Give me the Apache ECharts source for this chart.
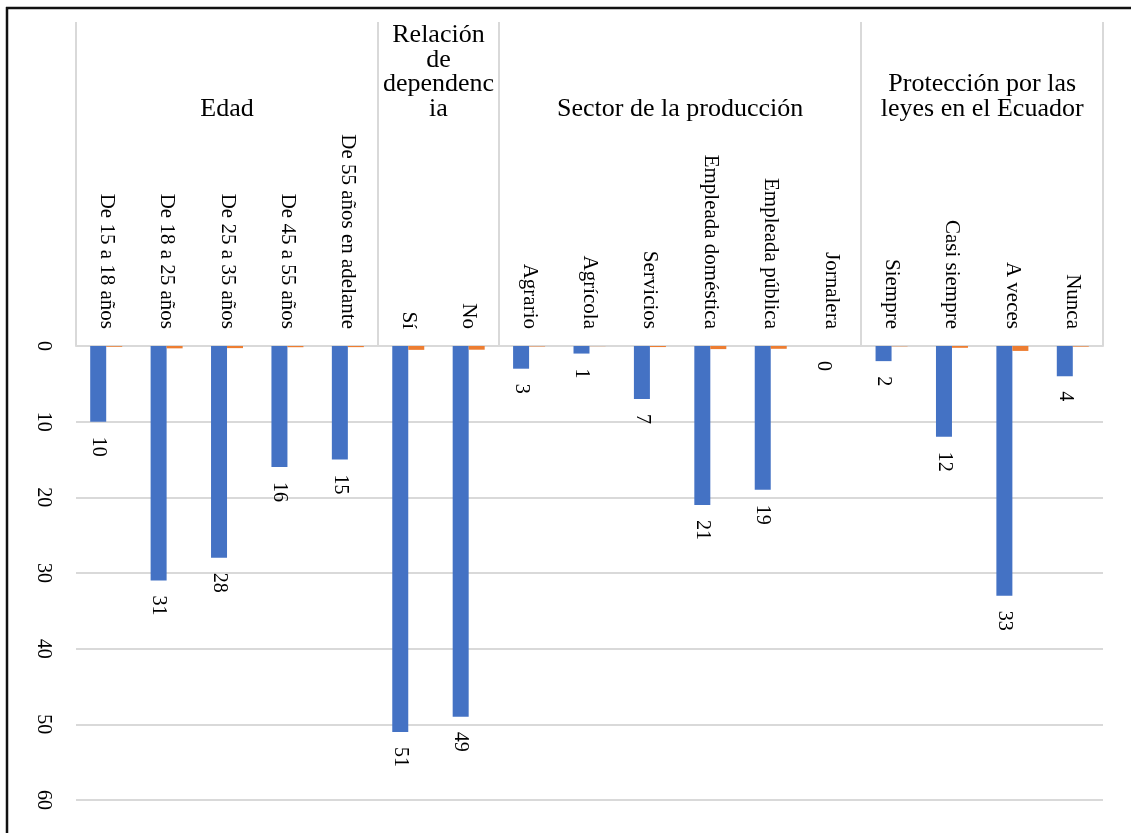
<!DOCTYPE html>
<html>
<head>
<meta charset="utf-8">
<script src="https://cdn.jsdelivr.net/npm/echarts@6/dist/echarts.min.js"></script>
<style>
  html, body { margin: 0; padding: 0; background: #fff; }
  #chart { width: 1131px; height: 833px; }
</style>
</head>
<body>
<div id="chart"></div>
<script>
// Response categories, in drawing order
const categories = [
  'De 15 a 18 años', 'De 18 a 25 años', 'De 25 a 35 años', 'De 45 a 55 años', 'De 55 años en adelante',
  'Sí', 'No',
  'Agrario', 'Agrícola', 'Servicios', 'Empleada doméstica', 'Empleada pública', 'Jornalera',
  'Siempre', 'Casi siempre', 'A veces', 'Nunca'
];
// Frequency per category
const frequencies = [10, 31, 28, 16, 15, 51, 49, 3, 1, 7, 21, 19, 0, 2, 12, 33, 4];
// Share per category (fraction)
const shares = [0.10, 0.31, 0.28, 0.16, 0.15, 0.51, 0.49, 0.06, 0.02, 0.14, 0.41, 0.37, 0, 0.04, 0.24, 0.65, 0.08];
// Question groups and how many categories each one spans
const groupNames = ['Edad', 'Relación\nde\ndependenc\nia', 'Sector de la producción', 'Protección por las\nleyes en el Ecuador'];
const groupSizes = [5, 2, 6, 4];
// Value axis ticks
const valueTicks = { min: 0, max: 60, interval: 10 };

const FONT = '"Liberation Serif", "Times New Roman", serif';
const GRID = '#d9d9d9';

const chart = echarts.init(document.getElementById('chart'));

chart.setOption({
  animation: false,
  backgroundColor: '#fff',
  grid: { left: 76, right: 28, top: 346, bottom: 33, containLabel: false },
  xAxis: {
    type: 'category',
    position: 'top',
    data: categories,
    axisLine: { show: true, lineStyle: { color: GRID, width: 2 } },
    axisTick: { show: false },
    axisLabel: {
      interval: 0,
      rotate: -90,
      margin: 17,
      color: '#000',
      fontFamily: FONT,
      fontSize: 21
    }
  },
  yAxis: {
    type: 'value',
    inverse: true,
    min: valueTicks.min,
    max: valueTicks.max,
    interval: valueTicks.interval,
    axisLine: { show: false },
    axisTick: { show: false },
    splitLine: { lineStyle: { color: GRID, width: 2 } },
    axisLabel: {
      rotate: -90,
      margin: 23,
      color: '#000',
      fontFamily: FONT,
      fontSize: 20
    }
  },
  series: [
    {
      name: 'Frecuencia',
      type: 'bar',
      data: frequencies,
      barWidth: 16,
      barGap: '0%',
      itemStyle: { color: '#4472C4' },
      label: {
        show: true,
        position: 'bottom',
        distance: 15,
        rotate: -90,
        align: 'left',
        verticalAlign: 'middle',
        color: '#000',
        fontFamily: FONT,
        fontSize: 20
      }
    },
    {
      name: 'Porcentaje',
      type: 'bar',
      data: shares,
      barWidth: 16,
      barGap: '0%',
      itemStyle: { color: '#ED7D31' }
    }
  ]
});

// Group separators and group headers above the category labels
function drawGroups() {
  const c0 = chart.convertToPixel({ xAxisIndex: 0 }, 0);
  const c1 = chart.convertToPixel({ xAxisIndex: 0 }, 1);
  const band = c1 - c0;
  const yZero = chart.convertToPixel({ yAxisIndex: 0 }, 0);
  const edgeAt = (i) => c0 - band / 2 + band * i;
  const topY = 22;
  const graphics = [];
  let start = 0;
  const edges = [0];
  groupSizes.forEach((n) => { start += n; edges.push(start); });
  edges.forEach((i) => {
    const x = Math.round(edgeAt(i));
    graphics.push({
      type: 'line',
      shape: { x1: x, y1: topY, x2: x, y2: yZero },
      style: { stroke: GRID, lineWidth: 2 },
      silent: true
    });
  });
  groupNames.forEach((name, g) => {
    const xc = (edgeAt(edges[g]) + edgeAt(edges[g + 1])) / 2;
    graphics.push({
      type: 'text',
      x: xc,
      y: 121,
      style: {
        text: name,
        align: 'center',
        verticalAlign: 'bottom',
        fill: '#000',
        font: '26px ' + FONT,
        lineHeight: 24.5
      },
      silent: true
    });
  });
  // frame lines along the top and left edges
  graphics.push({
    type: 'line',
    shape: { x1: 6, y1: 8, x2: 1131, y2: 8 },
    style: { stroke: '#111', lineWidth: 2.5 },
    silent: true
  });
  graphics.push({
    type: 'line',
    shape: { x1: 7, y1: 7, x2: 7, y2: 833 },
    style: { stroke: '#111', lineWidth: 2.5 },
    silent: true
  });
  chart.setOption({ graphic: graphics });
}
drawGroups();
</script>
</body>
</html>
